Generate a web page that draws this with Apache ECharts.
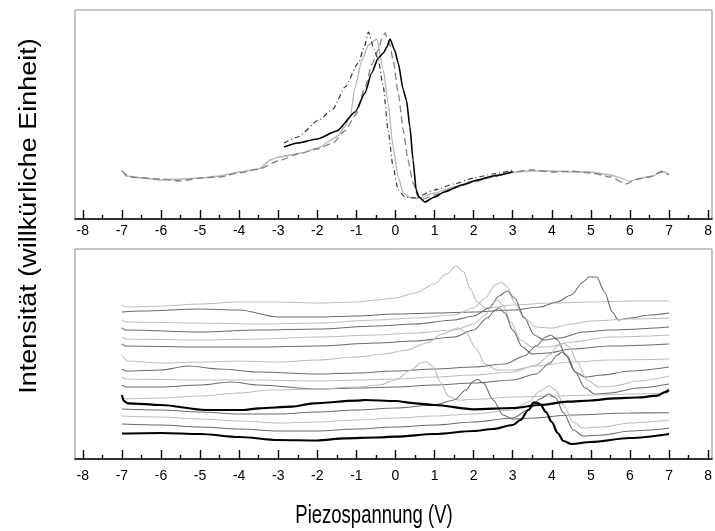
<!DOCTYPE html>
<html><head><meta charset="utf-8">
<script src="https://cdn.jsdelivr.net/npm/echarts@6/dist/echarts.min.js"></script>
<style>html,body{margin:0;padding:0;background:#fff}#c{width:715px;height:531px}</style>
</head><body><div id="c"></div>
<script>
// ---------- tick labels ----------
const xTicks = [-8,-7,-6,-5,-4,-3,-2,-1,0,1,2,3,4,5,6,7,8];
const xMinorTicks = [-7.5,-6.5,-5.5,-4.5,-3.5,-2.5,-1.5,-0.5,0.5,1.5,2.5,3.5,4.5,5.5,6.5,7.5];

// ---------- top panel (arbitrary intensity) ----------
const topLightGray = [[-7,49],[-6.9,43],[-6.5,41],[-6,39],[-5.5,40],[-5,41],[-4.5,43],[-4,47],[-3.5,50],[-3.2,59],[-3,62],[-2.4,66],[-2,71],[-1.5,82],[-1.3,92],[-1.16,102],[-1.03,132],[-0.86,159],[-0.69,174],[-0.48,180],[-0.31,149],[-0.19,116],[-0.06,72],[0.07,42],[0.2,26],[0.4,21],[0.6,21],[1,26],[1.5,32],[2,38],[2.5,43],[3,47],[3.5,48],[4,48],[4.5,47],[5,47],[5.5,44],[6,38],[6.3,41],[6.6,43],[6.8,48],[7,45]];
const topDashedGray = [[-7,48],[-6.8,42],[-6,40],[-5.5,38],[-5,41],[-4.5,42],[-4,46],[-3.5,50],[-3,58],[-2.5,65],[-2,70],[-1.6,76],[-1.3,88],[-1.0,105],[-0.78,132],[-0.6,155],[-0.44,169],[-0.35,180],[-0.27,186],[-0.15,175],[-0.06,159],[0.07,126],[0.2,89],[0.32,59],[0.45,36],[0.58,22],[0.7,20],[1,24],[1.5,31],[2,37],[2.5,42],[3,47],[3.5,49],[4,47],[4.5,48],[5,46],[5.5,42],[5.9,35],[6.2,40],[6.5,42],[6.8,47],[7,44]];
const topBlack = [[-2.85,72],[-2.5,76],[-2,80],[-1.5,88],[-1.03,107],[-0.78,126],[-0.61,146],[-0.44,161],[-0.31,166],[-0.22,172],[-0.14,180],[-0.02,169],[0.07,156],[0.2,129],[0.28,119],[0.37,92],[0.45,59],[0.53,29],[0.6,22],[0.75,17],[1.0,22],[1.25,27],[1.7,34],[2.1,39],[2.5,43],[3.0,47]];
const topDashDot = [[-2.85,76],[-2.5,82],[-1.96,99],[-1.6,110],[-1.29,132],[-0.95,156],[-0.8,172],[-0.69,187],[-0.55,170],[-0.44,159],[-0.31,132],[-0.19,89],[-0.06,52],[0.07,29],[0.24,22],[0.5,21],[1,29],[1.5,35],[2,41],[2.5,45],[3,49]];

// ---------- bottom panel (stacked curves, arbitrary intensity) ----------
const b01 = [[-7,154],[-6.9,152],[-6,153],[-5,155],[-4,157],[-3,157],[-2,156],[-1,157],[-0.5,159],[0,161],[0.5,166],[1.0,175],[1.3,185],[1.55,193],[1.75,187],[1.9,171],[2.1,157],[2.3,151],[2.6,152],[3,154],[4,156],[5,157],[6,158],[7,158]];
const b02 = [[-7,147],[-6.5,148],[-5,150],[-4,149],[-3,142],[-2,142],[-1,143],[0,145],[1,146],[2,147],[3,149],[3.7,152],[4.13,157],[4.5,164],[4.8,177],[4.95,182],[5.15,182],[5.35,167],[5.55,147],[5.7,139],[6,141],[6.5,144],[7,146]];
const b03 = [[-7,139],[-6.9,137],[-5,136],[-3.5,135],[-2,136],[-0.5,139],[0.5,141],[1.5,144],[2.0,151],[2.3,161],[2.55,174],[2.7,177],[2.85,173],[3.05,156],[3.3,141],[3.6,132],[4.0,131],[4.5,135],[5,138],[6,140],[7,141]];
const b04 = [[-7,131],[-6.9,129],[-5,127],[-3.5,129],[-2,130],[-0.5,133],[0.5,135],[1.5,139],[2.0,143],[2.4,151],[2.65,163],[2.86,168],[3.05,161],[3.3,141],[3.55,124],[3.8,119],[4.2,121],[4.8,127],[5.5,129],[7,132]];
const b05 = [[-7,122],[-6.9,120],[-5,119],[-3.5,120],[-2,122],[-0.5,124],[0.5,126],[1.5,129],[2.0,135],[2.3,144],[2.5,156],[2.6,159],[2.75,154],[2.95,137],[3.2,119],[3.5,112],[3.9,112],[4.5,117],[5.5,122],[7,124]];
const b06 = [[-7,115],[-6.9,113],[-5,112],[-3.5,112],[-2,113],[-0.5,116],[0.5,118],[1.5,122],[2.0,129],[2.35,141],[2.55,149],[2.65,151],[2.8,146],[3.0,129],[3.25,112],[3.5,105],[3.9,106],[4.5,110],[5.5,113],[7,115]];
const b07 = [[-7,104],[-6.85,98],[-6,96],[-5,97],[-4,98],[-3,97],[-2,99],[-1,102],[-0.3,105],[0.3,109],[0.8,116],[1.2,125],[1.6,131],[1.8,127],[2.05,111],[2.3,95],[2.6,89],[3.0,89],[3.6,93],[4.5,97],[5.5,99],[7,100]];
const b08 = [[-7,90],[-6.9,88],[-6,89],[-5.3,93],[-4.5,90],[-3.5,87],[-2,85],[-1,86],[0,88],[1,90],[2,92],[2.8,95],[3.3,103],[3.6,113],[3.85,122],[3.97,124],[4.15,119],[4.35,104],[4.6,87],[4.85,82],[5.3,84],[6,88],[7,92]];
const b09 = [[-7,82],[-6.9,80],[-5,79],[-3.5,79],[-2,78],[-1,79],[0,80],[1,82],[2,84],[3,87],[3.6,94],[3.95,104],[4.15,113],[4.3,116],[4.45,112],[4.65,97],[4.9,79],[5.2,72],[5.6,73],[6.2,78],[7,83]];
const b10 = [[-7,74],[-6.9,72],[-6,72],[-5,74],[-4.2,77],[-3.5,74],[-2,70],[-1,71],[0,72],[1,74],[2,76],[3,79],[3.6,85],[3.95,96],[4.15,104],[4.26,107],[4.4,103],[4.6,87],[4.85,71],[5.1,65],[5.5,66],[6.2,71],[7,75]];
const b11 = [[-7,64],[-6.95,58],[-6.85,55.7],[-6,54],[-4.85,49],[-3.9,49],[-3.5,50.7],[-2.65,52.3],[-2.1,55.7],[-1.0,58.3],[-0.78,59],[0,58],[0.5,55.7],[1,54],[2,49.7],[3,51],[3.7,54],[4.4,57.3],[5,58.5],[5.6,60.7],[6.2,61.5],[6.7,63.3],[6.9,67],[7,69]];
const b12 = [[-7,60],[-6,61],[-5,63],[-4,66],[-3.2,69],[-2,70],[-1,72],[-0.4,74],[0,79],[0.4,89],[0.65,96],[0.79,97.3],[0.95,93],[1.15,77],[1.35,63],[1.6,59],[2.2,60],[3,62],[4,63],[5,64],[6,65],[7,66]];
const b13 = [[-7,50],[-6,49],[-5,47],[-4,45],[-3,45],[-2,47],[-1,49],[0,51],[1,54],[1.5,59],[1.8,69],[2.0,78],[2.1,79.7],[2.25,76],[2.5,59],[2.75,44],[3.0,40],[3.5,41],[4.5,44],[6,46],[7,46.3]];
const b14 = [[-7,43],[-6,42],[-5,40],[-4,38],[-3,36],[-2,37],[-1,39],[0,41],[1,43],[2,45],[3,49],[3.4,57],[3.7,68],[3.92,73.3],[4.1,69],[4.3,54],[4.55,37],[4.8,31],[5.3,32],[6,36],[7,39]];
const b15 = [[-7,35],[-6,34],[-5,32],[-4,30],[-3,28],[-2,28],[-1,30],[0,32],[1,34],[2,37],[3,41],[3.4,49],[3.7,60],[3.92,65],[4.1,61],[4.3,46],[4.55,29],[4.8,23],[5.3,24],[6,28],[7,30.7]];
const b16 = [[-7,25.5],[-6,26],[-5,25],[-4,22],[-3,19],[-2,18.5],[-1.3,20.7],[-0.5,21.5],[0,22.3],[1,25],[2,28],[2.5,30],[3,34],[3.2,39],[3.4,49],[3.54,56.7],[3.7,55],[3.85,47],[4.0,37],[4.15,26],[4.3,18],[4.5,15],[5,17],[6,21],[7,25]];

const LIGHT = '#bdbdbd', DARK = '#6b6b6b', BLACK = '#000';
const bottomSeries = [
  [b01, LIGHT, 1.1],[b02, DARK, 1.1],[b03, LIGHT, 1.1],[b04, DARK, 1.1],
  [b05, LIGHT, 1.1],[b06, DARK, 1.1],[b07, LIGHT, 1.1],[b08, DARK, 1.1],
  [b09, LIGHT, 1.1],[b10, DARK, 1.1],[b12, LIGHT, 1.1],[b13, DARK, 1.1],
  [b14, LIGHT, 1.1],[b15, DARK, 1.1],[b11, BLACK, 2.2],[b16, BLACK, 2.2]
];

const FONT = 'Liberation Sans, Arial, sans-serif';
function xAxes(gi, margin) {
  return [
    { type:'value', gridIndex:gi, min:-8.2, max:8.1, position:'bottom',
      axisLine:{show:true, onZero:false, lineStyle:{color:'#000', width:1.6}},
      axisTick:{show:true, inside:true, length:9, customValues:xTicks, lineStyle:{color:'#000', width:1.4}},
      axisLabel:{show:true, customValues:xTicks, margin:margin, color:'#000', fontSize:14, fontFamily:FONT,
                 formatter:(v)=>String(v)},
      splitLine:{show:false} },
    { type:'value', gridIndex:gi, min:-8.2, max:8.1, position:'bottom',
      axisLine:{show:false, onZero:false},
      axisTick:{show:true, inside:true, length:4, customValues:xMinorTicks, lineStyle:{color:'#000', width:1.4}},
      axisLabel:{show:false}, splitLine:{show:false} }
  ];
}

const series = [];
function line(data, xi, yi, color, width, type, z, smooth) {
  series.push({ type:'line', data:data, xAxisIndex:xi, yAxisIndex:yi, showSymbol:false, symbol:'none',
    smooth:smooth || false, smoothMonotone:'x', lineStyle:{color:color, width:width, type:type||'solid'}, z:z||2, animation:false, silent:true });
}
line(topLightGray, 0, 0, '#b5b5b5', 1.3, 'solid', 2, 0.2);
line(topDashedGray, 0, 0, '#808080', 1.3, [7,4], 3, 0.2);
line(topDashDot, 0, 0, '#333', 1.2, [5,3,1,3], 4, 0.2);
line(topBlack, 0, 0, '#000', 1.6, 'solid', 5, 0.2);
bottomSeries.forEach(([d, c, w]) => line(d, 2, 1, c, w, 'solid', c === BLACK ? 6 : 3, 0.3));

const chart = echarts.init(document.getElementById('c'), null, {renderer:'canvas'});
chart.setOption({
  backgroundColor:'#fff',
  animation:false,
  grid:[
    {left:75, right:0, top:10, height:209, show:true, borderColor:'#8a8a8a', borderWidth:1, backgroundColor:'transparent'},
    {left:75, right:0, top:249, height:210, show:true, borderColor:'#8a8a8a', borderWidth:1, backgroundColor:'transparent'}
  ],
  xAxis:[...xAxes(0, 5), ...xAxes(1, 10)],
  yAxis:[
    {type:'value', gridIndex:0, min:0, max:209, show:false},
    {type:'value', gridIndex:1, min:0, max:210, show:false}
  ],
  graphic:[
    {type:'text', x:29, y:216, rotation:Math.PI/2, scaleY:0.92,
     style:{text:'Intensität (willkürliche Einheit)', fontSize:27, fontFamily:FONT, fill:'#000', align:'center', verticalAlign:'middle'}},
    {type:'text', x:374, y:516, scaleX:0.74,
     style:{text:'Piezospannung (V)', fontSize:25, fontFamily:FONT, fill:'#000', align:'center', verticalAlign:'middle'}}
  ],
  series:series
});
</script></body></html>
